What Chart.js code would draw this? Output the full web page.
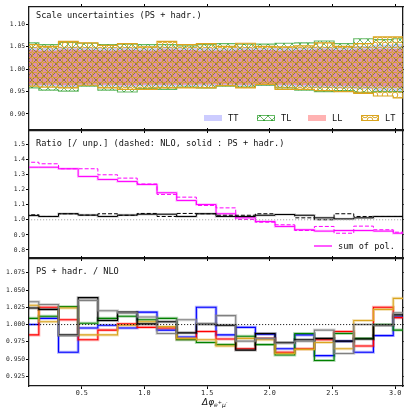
<!DOCTYPE html>
<html>
<head>
<meta charset="utf-8">
<script src="https://cdn.jsdelivr.net/npm/chart.js@4.4.1/dist/chart.umd.min.js"></script>
<style>
  html, body { margin: 0; padding: 0; background: #fff; }
  #wrap { position: relative; width: 404px; height: 408px; }
  canvas { position: absolute; left: 0; top: 0; }
</style>
</head>
<body>
<div id="wrap">
  <canvas id="c1" width="404" height="408"></canvas>
  <canvas id="c2" width="404" height="408"></canvas>
  <canvas id="c3" width="404" height="408"></canvas>
</div>
<script>
// bin edges of the delta-phi histogram (20 bins, 0..pi)
const binEdges = [0, 0.157, 0.314, 0.471, 0.628, 0.785, 0.942, 1.100, 1.257, 1.414, 1.571,
                  1.728, 1.885, 2.042, 2.199, 2.356, 2.513, 2.670, 2.827, 2.985, 3.142];
const xTicks = [0.5, 1.0, 1.5, 2.0, 2.5, 3.0];
const xTickLabels = ['0.5', '1.0', '1.5', '2.0', '2.5', '3.0'];

// panel 1 : scale uncertainty bands
const ttUp = [1.049, 1.048, 1.050, 1.049, 1.048, 1.049, 1.047, 1.050, 1.048, 1.048, 1.047, 1.049, 1.048, 1.048, 1.049, 1.050, 1.050, 1.052, 1.055, 1.056];
const ttLo = [0.962, 0.962, 0.960, 0.963, 0.961, 0.960, 0.961, 0.961, 0.962, 0.962, 0.963, 0.962, 0.963, 0.961, 0.960, 0.958, 0.957, 0.955, 0.952, 0.950];
const tlUp = [1.059, 1.055, 1.060, 1.058, 1.055, 1.056, 1.055, 1.055, 1.052, 1.055, 1.057, 1.056, 1.056, 1.058, 1.059, 1.063, 1.057, 1.068, 1.066, 1.068];
const tlLo = [0.958, 0.953, 0.951, 0.962, 0.953, 0.949, 0.957, 0.955, 0.960, 0.958, 0.962, 0.960, 0.964, 0.958, 0.953, 0.950, 0.952, 0.948, 0.950, 0.950];
const llUp = [1.043, 1.042, 1.044, 1.043, 1.042, 1.043, 1.042, 1.044, 1.043, 1.042, 1.042, 1.043, 1.043, 1.042, 1.043, 1.044, 1.043, 1.044, 1.045, 1.045];
const llLo = [0.965, 0.965, 0.964, 0.966, 0.965, 0.964, 0.965, 0.965, 0.965, 0.966, 0.966, 0.965, 0.966, 0.965, 0.964, 0.963, 0.963, 0.962, 0.961, 0.960];
const ltUp = [1.055, 1.051, 1.062, 1.059, 1.053, 1.057, 1.050, 1.062, 1.055, 1.057, 1.051, 1.058, 1.051, 1.050, 1.052, 1.059, 1.051, 1.057, 1.072, 1.072];
const ltLo = [0.962, 0.960, 0.958, 0.964, 0.958, 0.955, 0.955, 0.958, 0.958, 0.958, 0.963, 0.958, 0.966, 0.955, 0.955, 0.952, 0.950, 0.946, 0.940, 0.936];
const yTicks1 = [0.90, 0.95, 1.00, 1.05, 1.10];
const yLabels1 = ['0.90', '0.95', '1.00', '1.05', '1.10'];

// panel 2 : ratio to unpolarised
const sumPolPS  = [1.348, 1.348, 1.338, 1.287, 1.267, 1.254, 1.234, 1.179, 1.128, 1.101, 1.040, 1.013, 0.989, 0.956, 0.934, 0.925, 0.929, 0.929, 0.925, 0.911];
const sumPolNLO = [1.381, 1.371, 1.338, 1.338, 1.298, 1.276, 1.237, 1.168, 1.150, 1.095, 1.079, 1.002, 0.984, 0.967, 0.929, 0.956, 0.911, 0.958, 0.934, 0.918];
const unpPS     = [1.028, 1.022, 1.040, 1.031, 1.022, 1.031, 1.037, 1.037, 1.022, 1.040, 1.022, 1.022, 1.030, 1.035, 1.030, 1.013, 1.006, 1.013, 1.022, 1.022];
const unpNLO    = [1.033, 1.022, 1.040, 1.031, 1.040, 1.030, 1.042, 1.022, 1.042, 1.040, 1.030, 1.030, 1.040, 1.035, 1.013, 1.000, 1.040, 1.022, 1.022, 1.022];
const yTicks2 = [0.8, 0.9, 1.0, 1.1, 1.2, 1.3, 1.4, 1.5];
const yLabels2 = ['0.8', '0.9', '1.0', '1.1', '1.2', '1.3', '1.4', '1.5'];

// panel 3 : PS + hadr. / NLO
const kBlue   = [1.000, 1.009, 0.960, 0.995, 0.999, 0.995, 1.018, 0.992, 0.982, 1.025, 0.985, 0.996, 0.986, 0.965, 0.985, 0.955, 0.976, 0.960, 0.984, 1.011];
const kRed    = [0.985, 1.025, 1.007, 0.978, 0.992, 1.001, 0.996, 0.995, 0.979, 0.990, 0.979, 0.965, 0.980, 0.960, 0.965, 0.978, 0.990, 0.969, 1.025, 1.010];
const kGreen  = [1.009, 1.012, 1.026, 1.002, 1.009, 1.012, 1.007, 1.009, 0.978, 0.974, 0.971, 0.983, 0.971, 0.956, 0.987, 0.948, 0.987, 0.980, 1.000, 0.992];
const kGray   = [1.033, 1.029, 0.984, 1.035, 1.020, 1.017, 1.011, 0.987, 1.007, 1.001, 1.013, 0.976, 0.980, 0.973, 0.976, 0.992, 0.958, 1.000, 0.999, 1.017];
const kBlack  = [1.024, 1.022, 0.985, 1.039, 1.006, 1.018, 1.001, 1.004, 0.988, 1.001, 0.999, 0.963, 0.987, 0.974, 0.978, 0.980, 0.976, 0.979, 0.999, 1.014];
const kOrange = [1.028, 1.004, 1.024, 0.985, 0.985, 0.999, 1.004, 0.997, 0.980, 0.978, 0.969, 0.980, 0.978, 0.958, 0.964, 0.974, 0.965, 1.006, 1.022, 1.038];
const yTicks3 = [0.925, 0.950, 0.975, 1.000, 1.025, 1.050, 1.075];
const yLabels3 = ['0.925', '0.950', '0.975', '1.000', '1.025', '1.050', '1.075'];

const X_MIN = 0.0785, X_MAX = 3.063;
const MONO = "'DejaVu Sans Mono', monospace";
const W = 404, H = 408;

// histogram as a step line: value i holds from edge i to edge i+1
function steps(vals) {
  return binEdges.map((x, i) => ({ x: x, y: vals[Math.min(i, vals.length - 1)] }));
}
function unity() {
  return [{ x: binEdges[0], y: 1 }, { x: binEdges[binEdges.length - 1], y: 1 }];
}

function hatchX(color) {
  const c = document.createElement('canvas');
  c.width = 8; c.height = 8;
  const g = c.getContext('2d');
  g.strokeStyle = color; g.lineWidth = 1;
  g.beginPath();
  g.moveTo(0, 0); g.lineTo(8, 8);
  g.moveTo(8, 0); g.lineTo(0, 8);
  g.stroke();
  return g.createPattern(c, 'repeat');
}
function hatchO(color) {
  const c = document.createElement('canvas');
  c.width = 10; c.height = 10;
  const g = c.getContext('2d');
  g.strokeStyle = color; g.lineWidth = 1;
  [[5, 5], [0, 0], [10, 0], [0, 10], [10, 10]].forEach(([x, y]) => {
    g.beginPath(); g.arc(x, y, 2.8, 0, Math.PI * 2); g.stroke();
  });
  return g.createPattern(c, 'repeat');
}

function scalesFor(p, yTicks, yLabels, showX) {
  const setTicks = vals => s => { s.ticks = vals.map(v => ({ value: v })); };
  const size = (prop, v) => s => { s[prop] = v; };
  const grid = { drawOnChartArea: false, drawTicks: true, tickLength: 3, color: '#000', lineWidth: 1 };
  const border = { display: true, color: '#1a1a1a', width: 1.3 };
  const xBase = { type: 'linear', min: X_MIN, max: X_MAX, bounds: 'data', grid, border, afterBuildTicks: setTicks(xTicks) };
  const yBase = { type: 'linear', min: p.yMin, max: p.yMax, bounds: 'data', grid, border, afterBuildTicks: setTicks(yTicks) };
  return {
    x: { ...xBase, position: 'bottom', afterFit: size('height', H - p.bottom),
         ticks: { display: showX, autoSkip: false, maxRotation: 0, padding: 0, color: '#222',
                  font: { family: MONO, size: 6.8 }, callback: (v, i) => xTickLabels[i] } },
    xTop: { ...xBase, position: 'top', afterFit: size('height', p.top), ticks: { display: false } },
    y: { ...yBase, position: 'left', afterFit: size('width', 29),
         ticks: { autoSkip: false, padding: 1, color: '#222',
                  font: { family: MONO, size: 6.3 }, callback: (v, i) => yLabels[i] } },
    yRight: { ...yBase, position: 'right', afterFit: size('width', W - 403), ticks: { display: false } }
  };
}

// titles, legends and the x-axis label, drawn in the chart area
const panelText = {
  id: 'panelText',
  afterDatasetsDraw(chart, args, opts) {
    const ctx = chart.ctx, a = chart.chartArea;
    ctx.save();
    ctx.fillStyle = '#111';
    ctx.textBaseline = 'middle';
    ctx.font = `8.6px ${MONO}`;
    ctx.fillText(opts.title, a.left + 7, a.top + opts.titleDy);
    (opts.legend || []).forEach(it => {
      if (it.kind === 'box') {
        ctx.fillStyle = it.fill;
        ctx.fillRect(it.x, it.y - 3, 18, 6);
        if (it.stroke) {
          ctx.strokeStyle = it.stroke; ctx.lineWidth = 1;
          ctx.strokeRect(it.x + 0.5, it.y - 2.5, 17, 5);
        }
      } else {
        ctx.strokeStyle = it.stroke; ctx.lineWidth = 1.3;
        ctx.beginPath(); ctx.moveTo(it.x, it.y); ctx.lineTo(it.x + 18, it.y); ctx.stroke();
      }
      ctx.fillStyle = '#111';
      ctx.font = `8.6px ${MONO}`;
      ctx.fillText(it.text, it.x + 24, it.y + 0.5);
    });
    if (opts.xLabel) {
      let x = 202;
      const parts = [['Δφ', 'italic 9px "DejaVu Sans"', 405], ['e', 'italic 6px "DejaVu Sans"', 407],
                     ['+', '5px "DejaVu Sans"', 404], ['μ', 'italic 6px "DejaVu Sans"', 407],
                     ['-', '5px "DejaVu Sans"', 404]];
      ctx.textBaseline = 'alphabetic';
      parts.forEach(([t, f, y]) => { ctx.font = f; ctx.fillText(t, x, y); x += ctx.measureText(t).width; });
    }
    ctx.restore();
  }
};

function makeChart(id, p, datasets, yTicks, yLabels, showX, text) {
  return new Chart(document.getElementById(id), {
    type: 'line',
    data: { datasets },
    options: {
      responsive: false, animation: false, devicePixelRatio: 1,
      layout: { padding: 0 },
      elements: { point: { radius: 0 }, line: { stepped: true, tension: 0 } },
      plugins: { legend: { display: false }, tooltip: { enabled: false }, panelText: text },
      scales: scalesFor(p, yTicks, yLabels, showX)
    },
    plugins: [panelText]
  });
}

// ---------- panel 1
const bands = [
  { label: 'TT', up: ttUp, lo: ttLo, bg: 'rgba(0,0,255,0.2)', line: 'rgba(0,0,0,0)', order: 4 },
  { label: 'TL', up: tlUp, lo: tlLo, bg: hatchX('rgba(0,128,0,0.55)'), line: 'rgba(0,140,0,0.6)', order: 3 },
  { label: 'LL', up: llUp, lo: llLo, bg: 'rgba(255,0,0,0.3)', line: 'rgba(0,0,0,0)', order: 2 },
  { label: 'LT', up: ltUp, lo: ltLo, bg: hatchO('#daa520'), line: '#daa520', order: 1 }
];
const ds1 = [];
bands.forEach((b, k) => {
  ds1.push({ label: b.label, data: steps(b.up), fill: 2 * k + 1, backgroundColor: b.bg,
             borderColor: b.line, borderWidth: 1.2, order: b.order });
  ds1.push({ label: b.label + ' low', data: steps(b.lo), fill: false,
             borderColor: b.line, borderWidth: 1.2, order: b.order });
});
makeChart('c1', { top: 7, bottom: 130, yMin: 0.864, yMax: 1.139 }, ds1, yTicks1, yLabels1, false, {
  title: 'Scale uncertainties (PS + hadr.)', titleDy: 9,
  legend: [
    { kind: 'box', text: 'TT', x: 204, y: 118, fill: bands[0].bg },
    { kind: 'box', text: 'TL', x: 257, y: 118, fill: bands[1].bg, stroke: bands[1].line },
    { kind: 'box', text: 'LL', x: 308, y: 118, fill: bands[2].bg },
    { kind: 'box', text: 'LT', x: 361, y: 118, fill: bands[3].bg, stroke: bands[3].line }
  ]
});

// ---------- panel 2
const ds2 = [
  { label: 'one', data: unity(), stepped: false, borderColor: '#999', borderWidth: 1, borderDash: [1, 2] },
  { label: 'unp PS band', data: steps(unpPS), borderColor: 'rgba(0,0,0,0.2)', borderWidth: 2.5 },
  { label: 'unp PS', data: steps(unpPS), borderColor: '#000', borderWidth: 1 },
  { label: 'unp NLO', data: steps(unpNLO), borderColor: '#000', borderWidth: 1, borderDash: [4, 2] },
  { label: 'sum PS band', data: steps(sumPolPS), borderColor: 'rgba(255,0,255,0.25)', borderWidth: 2.5 },
  { label: 'sum of pol.', data: steps(sumPolPS), borderColor: '#ff00ff', borderWidth: 1 },
  { label: 'sum NLO', data: steps(sumPolNLO), borderColor: '#ff00ff', borderWidth: 1, borderDash: [4, 2] }
];
makeChart('c2', { top: 131, bottom: 258, yMin: 0.747, yMax: 1.588 }, ds2, yTicks2, yLabels2, false, {
  title: 'Ratio [/ unp.] (dashed: NLO, solid : PS + hadr.)', titleDy: 13,
  legend: [{ kind: 'line', text: 'sum of pol.', x: 314, y: 246, stroke: '#ff00ff' }]
});

// ---------- panel 3
const series3 = [
  { data: kGray, color: '128,128,128' },
  { data: kBlack, color: '0,0,0' },
  { data: kOrange, color: '218,165,32' },
  { data: kGreen, color: '0,128,0' },
  { data: kRed, color: '255,0,0' },
  { data: kBlue, color: '0,0,255' }
];
const ds3 = [{ label: 'one', data: unity(), stepped: false, borderColor: '#000', borderWidth: 1, borderDash: [1, 2] }];
series3.forEach(s => {
  ds3.push({ data: steps(s.data), borderColor: `rgba(${s.color},0.3)`, borderWidth: 3 });
  ds3.push({ data: steps(s.data), borderColor: `rgb(${s.color})`, borderWidth: 1.1 });
});
makeChart('c3', { top: 259, bottom: 386, yMin: 0.911, yMax: 1.095 }, ds3, yTicks3, yLabels3, true, {
  title: 'PS + hadr. / NLO', titleDy: 12.5, xLabel: true
});
</script>
</body>
</html>
